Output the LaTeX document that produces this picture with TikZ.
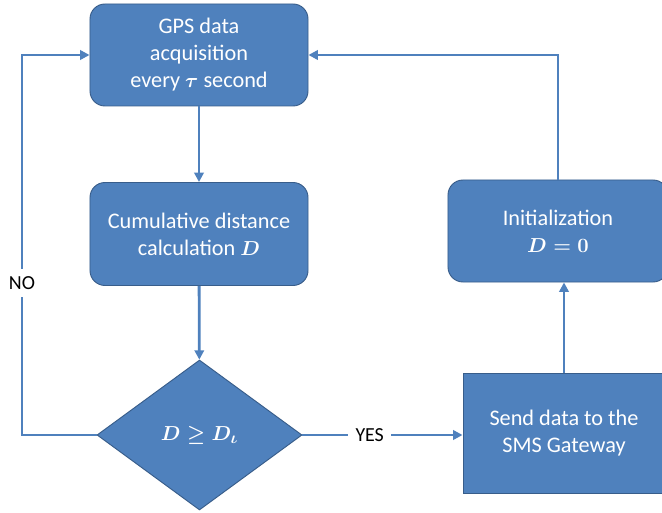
\documentclass[tikz,border=0pt]{standalone}
\usepackage{amsmath}
\usepackage{fontspec}
\setmainfont{Carlito}
\usepackage{tikz}
\usetikzlibrary{calc,shapes.geometric,arrows.meta}
\definecolor{boxblue}{HTML}{4F81BD}
\definecolor{boxedge}{HTML}{385D8A}

\begin{document}
\begin{tikzpicture}[x=0.03cm,y=-0.03cm,
    stepbox/.style={draw=boxedge,line width=0.8pt,fill=boxblue,text=white,align=center,
      font=\fontsize{19}{23}\selectfont,inner sep=0pt},
    flow/.style={draw=boxblue,line width=2.4pt,-{Triangle[length=8pt,width=8pt]}},
    tag/.style={fill=white,font=\fontsize{17}{20}\selectfont,inner sep=6pt}]
          \clip (0,0) rectangle (662,513);
          \node[stepbox,rounded corners=0.45cm,minimum width=6.54cm,minimum height=3.06cm]
            (gps) at (199,55) {GPS data\\acquisition\\every $\boldsymbol{\tau}$ second};
          \node[stepbox,rounded corners=0.45cm,minimum width=6.54cm,minimum height=3.09cm]
            (cumul) at (199,234) {Cumulative distance\\calculation $\boldsymbol{D}$};
          \node[stepbox,diamond,minimum width=6.15cm,minimum height=4.5cm]
            (test) at (199.5,435) {$\boldsymbol{D \geq D_\iota}$};
          \node[stepbox,rounded corners=0.45cm,minimum width=6.6cm,minimum height=3.06cm]
            (init) at (558,231) {Initialization\\$\boldsymbol{D=0}$};
          \node[stepbox,minimum width=6.06cm,minimum height=3.6cm]
            (send) at (564,433) {Send data to the\\SMS Gateway};
          \coordinate (lbend) at (22,435);
          \draw[flow] (gps) -- (cumul);
          \draw[flow] (cumul) -- (test);
          \draw[flow] (test.east) -- node[tag,pos=0.42]{YES} (test.east -| send.west);
          \draw[flow] (send.north) -- (send.north |- init.south);
          \draw[flow] (init.north) |- (gps.east);
          \draw[flow] (test.west) -- (lbend) -- node[tag,pos=0.4]{NO} (lbend |- gps.west) -- (gps.west);
        \end{tikzpicture}
\end{document}
